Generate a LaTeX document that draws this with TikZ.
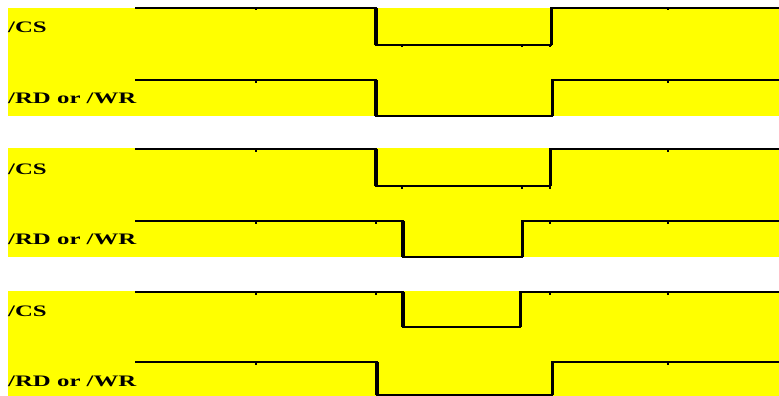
\documentclass[tikz,border=0pt]{standalone}
\usepackage{fontspec}
\setmainfont{Liberation Serif}
\definecolor{panelyellow}{RGB}{255,255,0}
\tikzset{
  level/.style={line width=1.6pt},
  fallstroke/.style={line width=4pt},
  risestroke/.style={line width=3pt},
  siglabel/.style={anchor=base west, inner sep=0pt, font=\fontsize{16}{16}\selectfont\bfseries}
}
% #1 high y, #2 low y, #3 falling x, #4 rising x, #5 tick positions
\newcommand{\sigwave}[5]{
    \draw[level] (135,#1) -| (#3,#2) -| (#4,#1) -- (779,#1);
    \draw[fallstroke] (#3,#1) -- (#3,#2);
    \draw[risestroke] (#4,#1) -- (#4,#2);
    \foreach \t in {#5} {
        \pgfmathsetmacro\ty{(\t<#3 || \t>#4) ? #1 : #2}
        \fill (\t-1,\ty) rectangle (\t+1,\ty+2.5);
    }
}

\begin{document}
\begin{tikzpicture}[x=1pt,y=-1pt]
        \useasboundingbox (0,0) rectangle (779,396);
        \foreach \py/\pb in {8/116,148/257,291/396}
        \fill[panelyellow] (8,\py) rectangle (779,\pb);
        \foreach \n/\py in {1/8,2/149,3/291} {
            \node[siglabel] (cs\n) at (8,\py+25) {\scalebox{1.55}[1]{/CS}};
            \node[siglabel] (rw\n) at (8,\py+95) {\scalebox{1.55}[1]{/RD or /WR}};
        }
        \sigwave{8}{45}{376}{551}{256,402,522,550,668}
        \sigwave{80}{116}{376}{552}{256,668}
        \sigwave{149}{186}{376}{550}{256,402,522,550,668}
        \sigwave{221}{257}{403}{522}{256,376,550,668}
        \sigwave{292}{327}{403}{520}{256,376,550,668}
        \sigwave{362}{395}{377}{552}{256,668}
    \end{tikzpicture}
\end{document}
